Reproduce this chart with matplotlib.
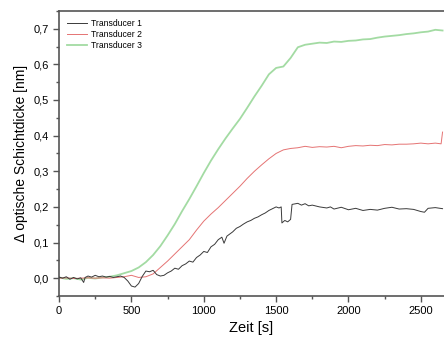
import matplotlib
matplotlib.use("Agg")
import matplotlib.pyplot as plt
from matplotlib.ticker import MultipleLocator, FuncFormatter

plt.rcParams['font.family'] = ['Liberation Sans', 'DejaVu Sans']

# Transducer 1 (black)
t1_time = [0, 25, 50, 75, 100, 125, 150, 170, 180, 200, 225, 250, 275, 300, 325,
           350, 375, 400, 425, 450, 475, 500, 525, 550, 575, 600, 625, 650, 675,
           700, 725, 750, 775, 800, 825, 850, 875, 900, 925, 950, 975, 1000, 1025,
           1050, 1075, 1100, 1125, 1140, 1160, 1200, 1225, 1250, 1275, 1300, 1325,
           1350, 1375, 1400, 1425, 1450, 1475, 1500, 1520, 1535, 1540, 1560, 1580,
           1600, 1610, 1650, 1675, 1700, 1725, 1750, 1800, 1850, 1875, 1900, 1950,
           2000, 2050, 2100, 2150, 2200, 2250, 2300, 2350, 2400, 2450, 2500, 2525,
           2550, 2600, 2650]
t1_vals = [0.003, 0.0, 0.004, -0.003, 0.002, -0.002, 0.001, -0.012, 0.002, 0.006,
           0.003, 0.008, 0.004, 0.006, 0.003, 0.005, 0.002, 0.004, 0.006, 0.002,
           -0.008, -0.022, -0.025, -0.015, 0.005, 0.02, 0.018, 0.022, 0.01, 0.006,
           0.008, 0.015, 0.02, 0.028, 0.025, 0.035, 0.04, 0.048, 0.045, 0.058,
           0.065, 0.075, 0.072, 0.088, 0.095, 0.108, 0.115, 0.098, 0.118, 0.13,
           0.14, 0.145, 0.152, 0.158, 0.162, 0.168, 0.172, 0.178, 0.183, 0.19,
           0.195, 0.2, 0.197, 0.2, 0.155, 0.162, 0.158, 0.165, 0.207, 0.21, 0.205,
           0.209, 0.203, 0.205, 0.2, 0.197, 0.2, 0.194, 0.199, 0.192, 0.196, 0.19,
           0.193, 0.191, 0.196, 0.199, 0.194, 0.195, 0.193, 0.187, 0.185, 0.196,
           0.198, 0.195]

# Transducer 2 (red)
t2_time = [0, 50, 100, 150, 200, 250, 300, 350, 400, 450, 500, 550, 600, 650, 700,
           750, 800, 850, 900, 950, 1000, 1050, 1100, 1150, 1200, 1250, 1300, 1350,
           1400, 1450, 1500, 1550, 1600, 1650, 1700, 1750, 1800, 1850, 1900, 1950,
           2000, 2050, 2100, 2150, 2200, 2250, 2300, 2350, 2400, 2450, 2500, 2550,
           2600, 2640, 2650]
t2_vals = [0.0, 0.001, -0.001, 0.0, 0.001, 0.0, 0.001, 0.0, 0.002, 0.004, 0.008,
           0.002, 0.004, 0.012, 0.03, 0.048, 0.068, 0.088, 0.108, 0.135, 0.16,
           0.18, 0.198, 0.218, 0.238, 0.258, 0.28, 0.3, 0.318, 0.335, 0.35, 0.36,
           0.364, 0.366, 0.37, 0.367, 0.369, 0.368, 0.37, 0.366, 0.37, 0.372,
           0.371, 0.373, 0.372, 0.375, 0.374, 0.376, 0.376, 0.377, 0.379, 0.377,
           0.379, 0.377, 0.41]

# Transducer 3 (green)
t3_time = [0, 50, 100, 150, 200, 250, 300, 350, 400, 450, 500, 550, 600, 650, 700,
           750, 800, 850, 900, 950, 1000, 1050, 1100, 1150, 1200, 1250, 1300, 1350,
           1400, 1450, 1500, 1550, 1600, 1650, 1700, 1750, 1800, 1850, 1900, 1950,
           2000, 2050, 2100, 2150, 2200, 2250, 2300, 2350, 2400, 2450, 2500, 2550,
           2600, 2650]
t3_vals = [0.002, -0.002, 0.0, -0.004, 0.001, -0.001, 0.002, 0.004, 0.008, 0.014,
           0.02, 0.03, 0.045, 0.065, 0.09, 0.12, 0.152, 0.188, 0.222, 0.258, 0.295,
           0.33, 0.362, 0.392, 0.42, 0.447, 0.478, 0.51, 0.54, 0.572, 0.59, 0.594,
           0.618, 0.648, 0.655, 0.658, 0.661, 0.66, 0.664, 0.663, 0.666, 0.667,
           0.67, 0.671, 0.675, 0.678, 0.68, 0.682, 0.685, 0.687, 0.69, 0.692,
           0.697, 0.695]

fig = plt.figure(figsize=(4.44, 3.41), dpi=100)
ax = fig.add_axes([0.133, 0.132, 0.867, 0.836])

ax.plot(t3_time, t3_vals, color='#a3dba3', linewidth=1.3, label='Transducer 3', zorder=1)
ax.plot(t2_time, t2_vals, color='#e57373', linewidth=0.7, label='Transducer 2', zorder=2)
ax.plot(t1_time, t1_vals, color='#3a3a3a', linewidth=0.7, label='Transducer 1', zorder=3)

ax.set_xlim(0, 2660)
ax.set_ylim(-0.05, 0.75)
ax.xaxis.set_major_locator(MultipleLocator(500))
ax.xaxis.set_minor_locator(MultipleLocator(250))
ax.yaxis.set_major_locator(MultipleLocator(0.1))
ax.yaxis.set_minor_locator(MultipleLocator(0.05))
ax.yaxis.set_major_formatter(FuncFormatter(lambda v, p: f'{v:.1f}'.replace('.', ',')))

for side in ['left', 'bottom', 'top']:
    ax.spines[side].set_color('#555555')
    ax.spines[side].set_linewidth(1.2)
ax.spines['right'].set_visible(False)
ax.tick_params(which='major', direction='out', length=4, width=1, color='#555555',
               labelsize=8, top=False, right=False)
ax.tick_params(which='minor', direction='out', length=2.5, width=1, color='#555555',
               top=False, right=False)

ax.set_xlabel('Zeit [s]', fontsize=10.5, labelpad=3)
ax.set_ylabel('Δ optische Schichtdicke [nm]', fontsize=10, labelpad=4)

handles, labels = ax.get_legend_handles_labels()
ax.legend(handles[::-1], labels[::-1], loc='upper left', frameon=False, fontsize=6.2,
          handlelength=2.4, handletextpad=0.45, labelspacing=0.25,
          bbox_to_anchor=(0.0, 1.0))

fig.savefig('out.png', dpi=100, facecolor='white')
